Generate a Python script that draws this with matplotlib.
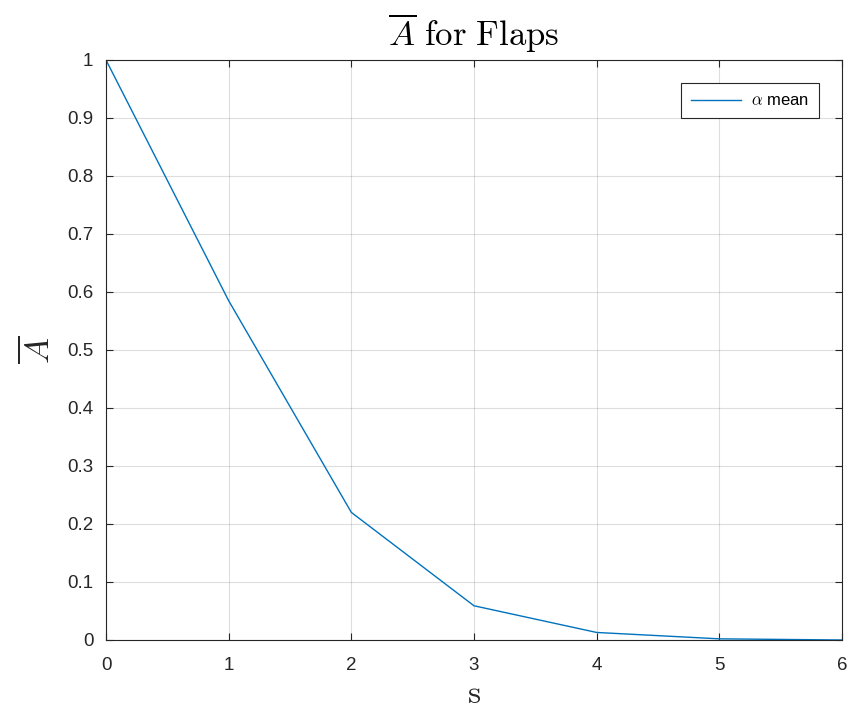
import matplotlib
matplotlib.use("Agg")
import matplotlib.pyplot as plt

s_values = [0, 1, 2, 3, 4, 5, 6]
alpha_mean = [1.0, 0.585, 0.22, 0.059, 0.013, 0.002, 0.0]
x_ticks = [0, 1, 2, 3, 4, 5, 6]
y_ticks = [0, 0.1, 0.2, 0.3, 0.4, 0.5, 0.6, 0.7, 0.8, 0.9, 1]
y_tick_labels = ["0", "0.1", "0.2", "0.3", "0.4", "0.5", "0.6", "0.7", "0.8", "0.9", "1"]

plt.rcParams['font.family'] = ['Liberation Sans', 'DejaVu Sans']
plt.rcParams['mathtext.fontset'] = 'cm'

txt = '#262626'
fig = plt.figure(figsize=(8.56, 7.18), dpi=100)
ax = fig.add_axes([106/856, 78/718, 736/856, 580/718])
ax.plot(s_values, alpha_mean, color='#0072BD', lw=1.0, label=r'$\alpha$ mean')
ax.set_xlim(0, 6)
ax.set_ylim(0, 1)
ax.set_xticks(x_ticks)
ax.set_yticks(y_ticks)
ax.set_yticklabels(y_tick_labels)
ax.grid(True, color='#262626', alpha=0.15, lw=0.8)
ax.tick_params(direction='in', top=True, right=True, labelsize=13.5, colors=txt, length=5, width=0.8)
ax.tick_params(axis='x', pad=12)
ax.tick_params(axis='y', pad=9)
for sp in ax.spines.values():
    sp.set_color(txt)
    sp.set_linewidth(0.8)
ax.set_title(r'$\overline{A}\ \mathrm{for\ Flaps}$', fontsize=25, color='black', pad=10)
ax.set_xlabel(r'$\mathrm{s}$', fontsize=24, color=txt, labelpad=4)
ax.set_ylabel(r'$\overline{A}$', fontsize=25, color=txt, labelpad=8)
leg = ax.legend(loc='upper right', fontsize=12, frameon=True, fancybox=False,
                edgecolor=txt, framealpha=1, borderaxespad=1.4, handlelength=3.0,
                borderpad=0.6, handletextpad=0.6)
leg.get_frame().set_linewidth(0.8)
fig.savefig('out.png', dpi=100)
